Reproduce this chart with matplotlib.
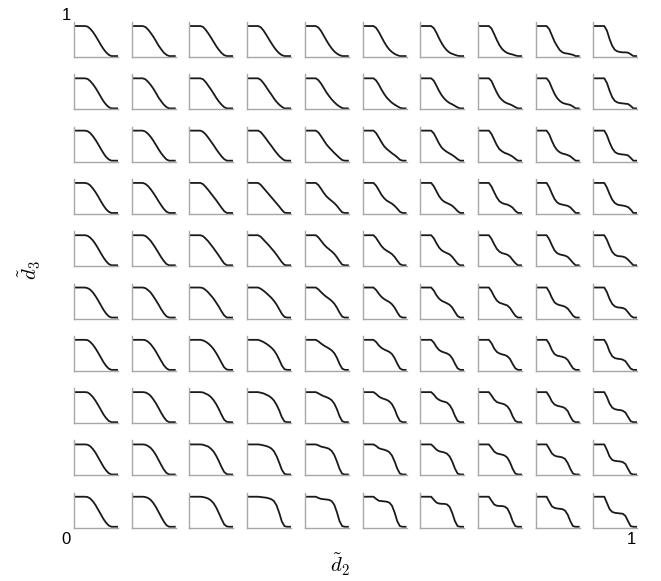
import matplotlib
matplotlib.use("Agg")
import matplotlib.pyplot as plt

# Sample positions along each small profile (shared by all panels)
x_plateau = [0.0, 0.25]
x_samples = [0.31, 0.37, 0.43, 0.49, 0.55, 0.61, 0.67, 0.73, 0.79, 0.85]
x_tail = [0.91, 1.0]
PLATEAU = 1.0
FLOOR = 0.03

# Profile values, one list per row (top row: d3 = 1 ... bottom row: d3 = 0),
# each row holding ten profiles for d2 = 0 ... 1.
row_0 = [
    [0.98, 0.91, 0.81, 0.68, 0.54, 0.39, 0.26, 0.15, 0.07, 0.03],
    [0.97, 0.89, 0.78, 0.66, 0.52, 0.37, 0.25, 0.14, 0.07, 0.03],
    [0.97, 0.88, 0.76, 0.63, 0.49, 0.35, 0.23, 0.13, 0.06, 0.03],
    [0.96, 0.86, 0.73, 0.59, 0.45, 0.32, 0.21, 0.12, 0.06, 0.03],
    [0.95, 0.84, 0.69, 0.54, 0.40, 0.28, 0.18, 0.11, 0.06, 0.03],
    [0.94, 0.81, 0.65, 0.49, 0.35, 0.24, 0.16, 0.10, 0.06, 0.03],
    [0.93, 0.78, 0.60, 0.44, 0.31, 0.21, 0.14, 0.10, 0.07, 0.04],
    [0.92, 0.74, 0.55, 0.38, 0.26, 0.18, 0.13, 0.10, 0.08, 0.05],
    [0.90, 0.70, 0.50, 0.35, 0.22, 0.15, 0.12, 0.11, 0.09, 0.07],
    [0.85, 0.58, 0.36, 0.23, 0.18, 0.16, 0.15, 0.15, 0.14, 0.09],
]
row_1 = [
    [0.98, 0.91, 0.81, 0.69, 0.55, 0.40, 0.26, 0.15, 0.07, 0.03],
    [0.97, 0.89, 0.79, 0.67, 0.53, 0.38, 0.26, 0.15, 0.07, 0.03],
    [0.97, 0.88, 0.76, 0.64, 0.51, 0.37, 0.25, 0.15, 0.07, 0.03],
    [0.95, 0.85, 0.73, 0.60, 0.48, 0.35, 0.24, 0.15, 0.08, 0.03],
    [0.94, 0.83, 0.69, 0.55, 0.43, 0.32, 0.23, 0.15, 0.09, 0.04],
    [0.93, 0.80, 0.64, 0.50, 0.38, 0.29, 0.21, 0.15, 0.10, 0.05],
    [0.92, 0.76, 0.59, 0.45, 0.34, 0.26, 0.20, 0.16, 0.11, 0.06],
    [0.91, 0.72, 0.54, 0.39, 0.30, 0.23, 0.19, 0.16, 0.12, 0.07],
    [0.89, 0.69, 0.50, 0.36, 0.27, 0.21, 0.18, 0.16, 0.14, 0.09],
    [0.85, 0.60, 0.39, 0.27, 0.22, 0.20, 0.19, 0.18, 0.17, 0.11],
]
row_2 = [
    [0.98, 0.92, 0.82, 0.70, 0.56, 0.41, 0.27, 0.15, 0.07, 0.03],
    [0.97, 0.90, 0.80, 0.68, 0.54, 0.40, 0.27, 0.16, 0.07, 0.03],
    [0.96, 0.88, 0.77, 0.65, 0.53, 0.40, 0.28, 0.17, 0.08, 0.03],
    [0.95, 0.85, 0.74, 0.62, 0.51, 0.39, 0.28, 0.18, 0.10, 0.04],
    [0.94, 0.82, 0.69, 0.56, 0.46, 0.37, 0.28, 0.20, 0.12, 0.05],
    [0.92, 0.78, 0.63, 0.50, 0.41, 0.34, 0.27, 0.21, 0.14, 0.06],
    [0.91, 0.75, 0.58, 0.45, 0.37, 0.31, 0.26, 0.21, 0.15, 0.08],
    [0.89, 0.71, 0.53, 0.40, 0.33, 0.28, 0.25, 0.21, 0.16, 0.09],
    [0.88, 0.67, 0.49, 0.37, 0.30, 0.26, 0.24, 0.21, 0.17, 0.10],
    [0.85, 0.62, 0.43, 0.31, 0.26, 0.24, 0.23, 0.22, 0.20, 0.12],
]
row_3 = [
    [0.98, 0.92, 0.82, 0.70, 0.56, 0.41, 0.27, 0.15, 0.07, 0.03],
    [0.97, 0.90, 0.80, 0.68, 0.55, 0.41, 0.28, 0.16, 0.07, 0.03],
    [0.96, 0.87, 0.77, 0.66, 0.55, 0.44, 0.32, 0.20, 0.09, 0.03],
    [0.94, 0.84, 0.74, 0.64, 0.54, 0.44, 0.34, 0.24, 0.13, 0.04],
    [0.93, 0.81, 0.68, 0.57, 0.49, 0.42, 0.35, 0.26, 0.15, 0.05],
    [0.91, 0.77, 0.62, 0.51, 0.43, 0.38, 0.33, 0.26, 0.17, 0.07],
    [0.89, 0.73, 0.57, 0.46, 0.39, 0.35, 0.31, 0.26, 0.18, 0.09],
    [0.88, 0.70, 0.53, 0.41, 0.35, 0.32, 0.30, 0.26, 0.20, 0.10],
    [0.86, 0.66, 0.48, 0.37, 0.32, 0.30, 0.28, 0.26, 0.21, 0.12],
    [0.85, 0.64, 0.46, 0.35, 0.30, 0.28, 0.27, 0.25, 0.22, 0.14],
]
row_4 = [
    [0.98, 0.92, 0.83, 0.71, 0.57, 0.42, 0.28, 0.16, 0.07, 0.03],
    [0.98, 0.91, 0.82, 0.70, 0.57, 0.43, 0.29, 0.17, 0.07, 0.03],
    [0.97, 0.89, 0.80, 0.69, 0.58, 0.46, 0.34, 0.21, 0.09, 0.03],
    [0.95, 0.86, 0.77, 0.68, 0.58, 0.48, 0.37, 0.25, 0.13, 0.04],
    [0.93, 0.82, 0.71, 0.62, 0.55, 0.48, 0.40, 0.29, 0.16, 0.05],
    [0.91, 0.78, 0.65, 0.56, 0.50, 0.45, 0.39, 0.30, 0.18, 0.07],
    [0.90, 0.74, 0.60, 0.51, 0.46, 0.42, 0.38, 0.30, 0.19, 0.08],
    [0.88, 0.71, 0.56, 0.47, 0.42, 0.40, 0.37, 0.31, 0.20, 0.10],
    [0.87, 0.68, 0.51, 0.42, 0.38, 0.36, 0.34, 0.30, 0.21, 0.11],
    [0.85, 0.64, 0.46, 0.37, 0.33, 0.32, 0.31, 0.28, 0.21, 0.12],
]
row_5 = [
    [0.98, 0.93, 0.84, 0.72, 0.58, 0.43, 0.28, 0.16, 0.07, 0.03],
    [0.98, 0.92, 0.84, 0.72, 0.59, 0.45, 0.30, 0.17, 0.07, 0.03],
    [0.98, 0.92, 0.84, 0.74, 0.64, 0.51, 0.38, 0.23, 0.10, 0.03],
    [0.96, 0.90, 0.83, 0.75, 0.67, 0.57, 0.45, 0.30, 0.15, 0.05],
    [0.94, 0.85, 0.77, 0.70, 0.64, 0.57, 0.48, 0.35, 0.19, 0.06],
    [0.92, 0.80, 0.70, 0.63, 0.58, 0.53, 0.46, 0.35, 0.20, 0.07],
    [0.90, 0.75, 0.64, 0.57, 0.53, 0.49, 0.44, 0.35, 0.21, 0.08],
    [0.88, 0.71, 0.58, 0.51, 0.48, 0.45, 0.42, 0.34, 0.21, 0.09],
    [0.86, 0.67, 0.52, 0.46, 0.43, 0.41, 0.38, 0.32, 0.21, 0.09],
    [0.85, 0.63, 0.47, 0.39, 0.36, 0.35, 0.34, 0.30, 0.20, 0.09],
]
row_6 = [
    [0.99, 0.93, 0.84, 0.72, 0.58, 0.43, 0.28, 0.16, 0.07, 0.03],
    [0.99, 0.94, 0.86, 0.75, 0.62, 0.47, 0.32, 0.18, 0.08, 0.03],
    [0.98, 0.94, 0.88, 0.80, 0.70, 0.57, 0.42, 0.26, 0.11, 0.04],
    [0.97, 0.93, 0.88, 0.82, 0.75, 0.66, 0.53, 0.36, 0.17, 0.05],
    [0.95, 0.88, 0.82, 0.77, 0.72, 0.66, 0.57, 0.42, 0.22, 0.07],
    [0.93, 0.82, 0.74, 0.69, 0.65, 0.61, 0.54, 0.41, 0.23, 0.08],
    [0.91, 0.77, 0.67, 0.62, 0.59, 0.56, 0.51, 0.40, 0.23, 0.08],
    [0.89, 0.72, 0.61, 0.56, 0.53, 0.51, 0.47, 0.38, 0.22, 0.08],
    [0.87, 0.67, 0.54, 0.49, 0.47, 0.45, 0.42, 0.35, 0.21, 0.08],
    [0.85, 0.62, 0.47, 0.41, 0.39, 0.38, 0.36, 0.31, 0.19, 0.07],
]
row_7 = [
    [0.99, 0.93, 0.84, 0.72, 0.58, 0.43, 0.28, 0.16, 0.07, 0.03],
    [0.99, 0.95, 0.88, 0.77, 0.64, 0.49, 0.33, 0.19, 0.08, 0.03],
    [0.99, 0.95, 0.91, 0.84, 0.74, 0.61, 0.45, 0.27, 0.11, 0.04],
    [0.98, 0.96, 0.92, 0.88, 0.82, 0.73, 0.59, 0.41, 0.19, 0.05],
    [0.96, 0.91, 0.87, 0.84, 0.80, 0.74, 0.63, 0.45, 0.22, 0.06],
    [0.94, 0.86, 0.81, 0.78, 0.75, 0.70, 0.61, 0.45, 0.23, 0.07],
    [0.92, 0.81, 0.75, 0.71, 0.69, 0.66, 0.58, 0.44, 0.23, 0.07],
    [0.89, 0.76, 0.68, 0.65, 0.63, 0.60, 0.54, 0.42, 0.22, 0.07],
    [0.87, 0.70, 0.60, 0.56, 0.54, 0.52, 0.48, 0.39, 0.21, 0.07],
    [0.84, 0.63, 0.50, 0.45, 0.43, 0.42, 0.40, 0.34, 0.20, 0.06],
]
row_8 = [
    [0.99, 0.94, 0.85, 0.73, 0.58, 0.43, 0.28, 0.16, 0.07, 0.03],
    [0.99, 0.95, 0.89, 0.79, 0.66, 0.50, 0.34, 0.19, 0.08, 0.03],
    [0.99, 0.96, 0.93, 0.86, 0.77, 0.63, 0.46, 0.27, 0.11, 0.04],
    [0.99, 0.97, 0.95, 0.92, 0.87, 0.78, 0.62, 0.41, 0.18, 0.05],
    [0.97, 0.93, 0.91, 0.89, 0.86, 0.79, 0.66, 0.45, 0.21, 0.05],
    [0.95, 0.88, 0.85, 0.83, 0.80, 0.75, 0.64, 0.45, 0.22, 0.06],
    [0.92, 0.83, 0.78, 0.76, 0.74, 0.70, 0.61, 0.44, 0.22, 0.06],
    [0.89, 0.77, 0.71, 0.69, 0.67, 0.64, 0.57, 0.42, 0.21, 0.06],
    [0.86, 0.71, 0.64, 0.61, 0.60, 0.58, 0.53, 0.40, 0.21, 0.06],
    [0.82, 0.61, 0.50, 0.47, 0.46, 0.45, 0.43, 0.37, 0.21, 0.06],
]
row_9 = [
    [0.99, 0.94, 0.85, 0.73, 0.58, 0.43, 0.28, 0.16, 0.07, 0.03],
    [0.99, 0.96, 0.90, 0.80, 0.67, 0.51, 0.35, 0.20, 0.08, 0.03],
    [0.99, 0.97, 0.94, 0.88, 0.79, 0.65, 0.47, 0.28, 0.11, 0.04],
    [0.99, 0.98, 0.97, 0.95, 0.92, 0.86, 0.72, 0.48, 0.20, 0.05],
    [0.96, 0.93, 0.92, 0.91, 0.90, 0.86, 0.74, 0.50, 0.21, 0.05],
    [0.93, 0.87, 0.86, 0.85, 0.84, 0.81, 0.71, 0.49, 0.21, 0.05],
    [0.90, 0.81, 0.78, 0.77, 0.77, 0.75, 0.67, 0.47, 0.21, 0.05],
    [0.87, 0.75, 0.71, 0.70, 0.70, 0.68, 0.62, 0.45, 0.21, 0.05],
    [0.84, 0.69, 0.64, 0.62, 0.61, 0.60, 0.55, 0.42, 0.21, 0.05],
    [0.80, 0.60, 0.51, 0.48, 0.47, 0.46, 0.45, 0.38, 0.21, 0.05],
]
rows = [row_0, row_1, row_2, row_3, row_4, row_5, row_6, row_7, row_8, row_9]

corner_low = "0"
corner_high = "1"
xlabel = r"$\tilde{d}_2$"
ylabel = r"$\tilde{d}_3$"

plt.rcParams["mathtext.fontset"] = "cm"
plt.rcParams["font.family"] = ["Liberation Sans", "DejaVu Sans"]

W, H = 661, 581
fig = plt.figure(figsize=(W / 100, H / 100), dpi=100)

cell_w, cell_h = 44, 35
col_left0, col_step = 74, 57.7
row_top0, row_step = 22, 52.3

xs = x_plateau + x_samples + x_tail
for i, row in enumerate(rows):
    for j, vals in enumerate(row):
        left = col_left0 + col_step * j
        top = row_top0 + row_step * i
        ax = fig.add_axes([left / W, 1 - (top + cell_h) / H, cell_w / W, cell_h / H])
        ys = [PLATEAU, PLATEAU] + list(vals) + [FLOOR, FLOOR]
        ax.plot(xs, ys, color="#1a1a1a", lw=1.3, solid_capstyle="butt")
        ax.set_xlim(0, 1)
        ax.set_ylim(0, 1.13)
        ax.set_xticks([])
        ax.set_yticks([])
        for s in ("top", "right"):
            ax.spines[s].set_visible(False)
        for s in ("left", "bottom"):
            ax.spines[s].set_color("#a8a8a8")
            ax.spines[s].set_linewidth(1.0)
        ax.patch.set_alpha(0)

fig.text(66 / W, 1 - 16 / H, corner_high, fontsize=12, ha="center", va="center")
fig.text(66 / W, 1 - 540 / H, corner_low, fontsize=12, ha="center", va="center")
fig.text(631 / W, 1 - 540 / H, corner_high, fontsize=12, ha="center", va="center")
fig.text(340 / W, 1 - 565 / H, xlabel, fontsize=15, ha="center", va="center")
fig.text(30 / W, 1 - 270 / H, ylabel, fontsize=15, ha="center", va="center", rotation=90)

fig.savefig("out.png", dpi=100)
